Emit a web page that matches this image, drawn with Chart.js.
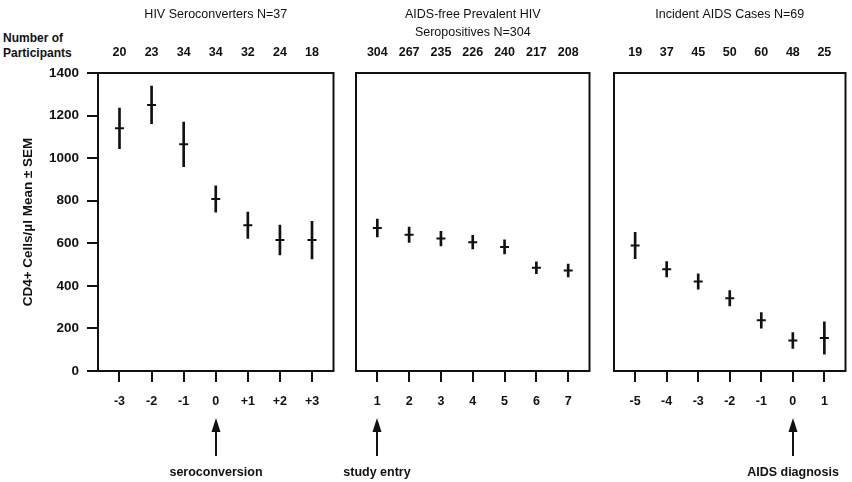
<!DOCTYPE html>
<html>
<head>
<meta charset="utf-8">
<script src="https://cdn.jsdelivr.net/npm/chart.js@4.4.1/dist/chart.umd.min.js"></script>
<style>
  body { margin: 0; background: #fff; width: 852px; height: 482px; position: relative; overflow: hidden;
         font-family: "Liberation Sans", Arial, Helvetica, sans-serif; color: #111; }
  .panel { position: absolute; top: 0; height: 482px; }
  #participants { position: absolute; left: 3px; top: 31px; font-size: 12px; font-weight: bold; line-height: 15px; }
</style>
</head>
<body>
<div id="participants">Number of<br>Participants</div>
<div class="panel" style="left:0;width:340px"><canvas id="seroChart"></canvas></div>
<div class="panel" style="left:340px;width:256px"><canvas id="prevChart"></canvas></div>
<div class="panel" style="left:600px;width:252px"><canvas id="aidsChart"></canvas></div>
<script>
// HIV seroconverters, years around seroconversion
const seroYears = [-3, -2, -1, 0, 1, 2, 3];
const seroLabels = ["-3", "-2", "-1", "0", "+1", "+2", "+3"];
const seroN = [20, 23, 34, 34, 32, 24, 18];
const seroMean = [1140, 1250, 1065, 808, 685, 615, 615];
const seroSem = [95, 88, 105, 62, 62, 70, 88];

// AIDS-free prevalent seropositives, years since study entry
const prevYears = [1, 2, 3, 4, 5, 6, 7];
const prevLabels = ["1", "2", "3", "4", "5", "6", "7"];
const prevN = [304, 267, 235, 226, 240, 217, 208];
const prevMean = [672, 640, 622, 605, 583, 485, 472];
const prevSem = [42, 36, 34, 32, 33, 28, 30];

// Incident AIDS cases, years around diagnosis
const aidsYears = [-5, -4, -3, -2, -1, 0, 1];
const aidsLabels = ["-5", "-4", "-3", "-2", "-1", "0", "1"];
const aidsN = [19, 37, 45, 50, 60, 48, 25];
const aidsMean = [590, 478, 420, 342, 238, 143, 155];
const aidsSem = [62, 36, 36, 36, 37, 37, 76];

const yTicks = [0, 200, 400, 600, 800, 1000, 1200, 1400];

const ink = "#111";
const fontFamily = '"Liberation Sans", Arial, Helvetica, sans-serif';
Chart.defaults.font.family = fontFamily;
Chart.defaults.color = ink;

// box around each plot area
const framePlugin = {
  id: "frame",
  afterDatasetsDraw(chart) {
    const { ctx, chartArea: a } = chart;
    ctx.save();
    ctx.strokeStyle = ink;
    ctx.lineWidth = 2;
    ctx.strokeRect(a.left, a.top, a.right - a.left, a.bottom - a.top);
    ctx.restore();
  },
};

// arrow + label under the x axis
const arrowPlugin = {
  id: "arrowNote",
  afterDraw(chart, args, opts) {
    if (!opts || opts.at === undefined) return;
    const { ctx, chartArea: a } = chart;
    const x = Math.round(chart.scales.x.getPixelForValue(opts.at));
    const tip = a.bottom + 47;
    ctx.save();
    ctx.strokeStyle = ink;
    ctx.fillStyle = ink;
    ctx.lineWidth = 2;
    ctx.beginPath();
    ctx.moveTo(x, tip + 10);
    ctx.lineTo(x, a.bottom + 85);
    ctx.stroke();
    ctx.beginPath();
    ctx.moveTo(x, tip);
    ctx.lineTo(x - 4.5, tip + 14);
    ctx.lineTo(x + 4.5, tip + 14);
    ctx.closePath();
    ctx.fill();
    ctx.font = "bold 12.5px " + fontFamily;
    ctx.textAlign = "center";
    ctx.textBaseline = "middle";
    ctx.fillText(opts.text, x, a.bottom + 102);
    ctx.restore();
  },
};

function createPanel(id, p) {
  const ctx = document.getElementById(id).getContext("2d");
  const xMin = p.x[0] - 0.67;
  const xMax = p.x[p.x.length - 1] + 0.67;
  return new Chart(ctx, {
    type: "bar",
    data: {
      datasets: [
        {
          // error bars: mean ± SEM as floating bars
          type: "bar",
          data: p.x.map((v, i) => ({ x: v, y: [p.mean[i] - p.sem[i], p.mean[i] + p.sem[i]] })),
          backgroundColor: ink,
          borderWidth: 0,
          barThickness: 2,
        },
        {
          // mean marker
          type: "line",
          data: p.x.map((v, i) => ({ x: v, y: p.mean[i] })),
          showLine: false,
          pointStyle: "line",
          pointRadius: 4.5,
          pointBorderWidth: 2,
          borderColor: ink,
        },
      ],
    },
    options: {
      responsive: true,
      maintainAspectRatio: false,
      animation: false,
      layout: { padding: { left: p.padLeft, right: p.padRight, top: 0, bottom: 0 } },
      plugins: {
        legend: { display: false },
        tooltip: { enabled: false },
        arrowNote: { at: p.arrowAt, text: p.arrowText },
      },
      scales: {
        x: {
          type: "linear",
          position: "bottom",
          min: xMin,
          max: xMax,
          offset: false,
          afterBuildTicks: (s) => { s.ticks = p.x.map((v) => ({ value: v })); },
          afterFit: (s) => { s.height = 111; },
          ticks: {
            callback: (v, i) => p.labels[i],
            font: { size: 12.5, weight: "bold" },
            color: ink,
            padding: 12,
            maxRotation: 0,
            autoSkip: false,
          },
          grid: { offset: false, drawOnChartArea: false, tickLength: 11, lineWidth: 2, color: ink },
          border: { display: false },
        },
        xTop: {
          type: "linear",
          position: "top",
          min: xMin,
          max: xMax,
          offset: false,
          afterBuildTicks: (s) => { s.ticks = p.x.map((v) => ({ value: v })); },
          afterFit: (s) => { s.height = 73; },
          ticks: {
            callback: (v, i) => String(p.counts[i]),
            font: { size: 12.5, weight: "bold" },
            color: ink,
            padding: 13,
            maxRotation: 0,
            autoSkip: false,
          },
          grid: { display: false, drawTicks: false },
          border: { display: false },
          title: {
            display: true,
            text: p.title,
            font: { size: 12.5, lineHeight: 1.4 },
            color: ink,
            padding: { top: 6, bottom: 0 },
          },
        },
        y: {
          type: "linear",
          min: 0,
          max: 1400,
          display: p.showY,
          afterBuildTicks: (s) => { s.ticks = yTicks.map((v) => ({ value: v })); },
          afterFit: (s) => { s.width = p.padYAxis; },
          ticks: {
            callback: (v) => String(v),
            font: { size: 13.5, weight: "bold" },
            color: ink,
            padding: 8,
          },
          grid: { drawOnChartArea: false, tickLength: 11, lineWidth: 2, color: ink },
          border: { display: false },
          title: {
            display: true,
            text: "CD4+ Cells/µl Mean ± SEM",
            font: { size: 13.5, weight: "bold" },
            color: ink,
            padding: { top: 20, bottom: 0 },
          },
        },
      },
    },
    plugins: [framePlugin, arrowPlugin],
  });
}

createPanel("seroChart", {
  title: "HIV Seroconverters N=37",
  x: seroYears, labels: seroLabels, counts: seroN, mean: seroMean, sem: seroSem,
  arrowAt: 0, arrowText: "seroconversion",
  showY: true, padYAxis: 98, padLeft: 0, padRight: 5,
});

createPanel("prevChart", {
  title: ["AIDS-free Prevalent HIV", "Seropositives N=304"],
  x: prevYears, labels: prevLabels, counts: prevN, mean: prevMean, sem: prevSem,
  arrowAt: 1, arrowText: "study entry",
  showY: false, padYAxis: 0, padLeft: 16, padRight: 5,
});

createPanel("aidsChart", {
  title: "Incident AIDS Cases N=69",
  x: aidsYears, labels: aidsLabels, counts: aidsN, mean: aidsMean, sem: aidsSem,
  arrowAt: 0, arrowText: "AIDS diagnosis",
  showY: false, padYAxis: 0, padLeft: 14, padRight: 2,
});
</script>
</body>
</html>
